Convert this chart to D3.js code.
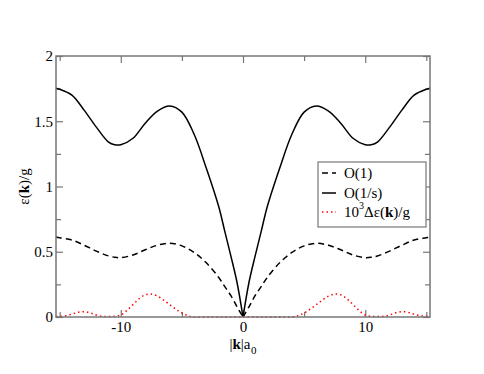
<!DOCTYPE html>
<html>
<head>
<meta charset="utf-8">
<title>dispersion</title>
<script src="https://cdn.jsdelivr.net/npm/d3@7/dist/d3.min.js"></script>
<style>
  body { margin: 0; background: #fff; }
  svg text { font-family: "Liberation Serif", "DejaVu Serif", serif; }
</style>
</head>
<body>
<div id="chart"></div>
<script>
var width = 484, height = 374;
var margin = {left: 56, right: 54, top: 56, bottom: 57};
var serif = "'Liberation Serif', 'DejaVu Serif', serif";

// k values (|k| a0)
var kLines = [-15.3,-15,-14,-13,-12,-11,-10.5,-10,-9,-8,-7,-6,-5,-4,-3,-2,-1.5,-1,-0.5,0,
              0.5,1,1.5,2,3,4,5,6,7,8,9,10,10.5,11,12,13,14,15,15.3];
// O(1/s), solid
var order1s = [1.752,1.745,1.70,1.585,1.455,1.34,1.32,1.32,1.37,1.485,1.578,1.617,1.57,1.40,1.14,0.85,0.66,0.47,0.27,0,
               0.27,0.47,0.66,0.85,1.14,1.40,1.57,1.617,1.578,1.485,1.37,1.32,1.32,1.34,1.455,1.585,1.70,1.745,1.752];
// O(1), dashed
var order1 = [0.613,0.607,0.59,0.55,0.505,0.468,0.458,0.455,0.475,0.515,0.55,0.565,0.545,0.495,0.415,0.305,0.235,0.165,0.08,0,
              0.08,0.165,0.235,0.305,0.415,0.495,0.545,0.565,0.55,0.515,0.475,0.455,0.458,0.468,0.505,0.55,0.59,0.607,0.613];

// 10^3 delta eps, dotted red
var kDelta = [-15.3,-15,-14.5,-14,-13.5,-13,-12.5,-12,-11.5,-11,-10.5,-10,-9.5,-9,-8.5,-8,-7.5,-7,-6.5,-6,-5.5,-5,-4.5,-4,-3,-2,-1,0,
              1,2,3,4,4.5,5,5.5,6,6.5,7,7.5,8,8.5,9,9.5,10,10.5,11,11.5,12,12.5,13,13.5,14,14.5,15,15.3];
var delta = [0.004,0.005,0.01,0.022,0.036,0.041,0.032,0.015,0.005,0.003,0.005,0.015,0.05,0.095,0.14,0.17,0.176,0.16,0.13,0.095,0.06,0.03,0.01,0,0,0,0,0,
             0,0,0,0,0.01,0.03,0.06,0.095,0.13,0.16,0.176,0.17,0.14,0.095,0.05,0.015,0.005,0.003,0.005,0.015,0.032,0.041,0.036,0.022,0.01,0.005,0.004];

var xMajor = [-10, 0, 10], xMinor = [-15, -5, 5, 15];
var yMajor = [0, 0.5, 1, 1.5, 2], yMinor = [0.25, 0.75, 1.25, 1.75];
var yLabels = ["0", "0.5", "1", "1.5", "2"];

var x = d3.scaleLinear().domain([-15.3, 15.3]).range([margin.left, width - margin.right]);
var y = d3.scaleLinear().domain([0, 2]).range([height - margin.bottom, margin.top]);

var svg = d3.select("#chart").append("svg")
    .attr("width", width)
    .attr("height", height);

var frameColor = "#777";

// axes, ticks pointing inward
function drawAxis(gen, tr, ticks, size, pad, fmt) {
  var g = svg.append("g").attr("transform", tr)
    .call(gen.tickValues(ticks).tickSizeInner(-size).tickSizeOuter(0).tickPadding(pad)
      .tickFormat(fmt || ""));
  g.attr("font-family", serif).attr("font-size", 15);
  g.select(".domain").remove();
  g.selectAll("line").attr("stroke", frameColor).attr("stroke-width", 1.2);
  g.selectAll("text").attr("fill", "#000");
  return g;
}
var bottomY = height - margin.bottom, rightX = width - margin.right;
drawAxis(d3.axisBottom(x), "translate(0," + bottomY + ")", xMajor, 7, 4, function(d) { return d; });
drawAxis(d3.axisBottom(x), "translate(0," + bottomY + ")", xMinor, 5, 0);
drawAxis(d3.axisTop(x), "translate(0," + margin.top + ")", xMajor, 7, 0);
drawAxis(d3.axisTop(x), "translate(0," + margin.top + ")", xMinor, 5, 0);
drawAxis(d3.axisLeft(y), "translate(" + margin.left + ",0)", yMajor, 7, 3, function(d, i) { return yLabels[i]; });
drawAxis(d3.axisLeft(y), "translate(" + margin.left + ",0)", yMinor, 5, 0);
drawAxis(d3.axisRight(y), "translate(" + rightX + ",0)", yMajor, 7, 0);
drawAxis(d3.axisRight(y), "translate(" + rightX + ",0)", yMinor, 5, 0);

// curves; split at k=0 so the cusp stays sharp
function halves(ks, vs) {
  var pts = ks.map(function(k, i) { return [k, vs[i]]; });
  return [pts.filter(function(p) { return p[0] <= 0; }), pts.filter(function(p) { return p[0] >= 0; })];
}
var line = d3.line()
  .x(function(d) { return x(d[0]); })
  .y(function(d) { return y(d[1]); })
  .curve(d3.curveCatmullRom.alpha(0.5));

var series = [
  {pts: halves(kLines, order1), color: "#000", dash: "6,4"},
  {pts: halves(kLines, order1s), color: "#000", dash: null},
  {pts: halves(kDelta, delta), color: "#ff0000", dash: "1.5,3"}
];
series.forEach(function(s) {
  svg.selectAll(null).data(s.pts).enter().append("path")
    .attr("d", line)
    .attr("fill", "none")
    .attr("stroke", s.color)
    .attr("stroke-width", 1.5)
    .attr("stroke-dasharray", s.dash);
});

// frame
svg.append("rect")
  .attr("x", margin.left).attr("y", margin.top)
  .attr("width", rightX - margin.left).attr("height", bottomY - margin.top)
  .attr("fill", "none").attr("stroke", frameColor).attr("stroke-width", 1.5);

// text made of pieces, each its own <text>, laid out left to right
function richText(parent, x0, y0, parts, anchor) {
  var g = parent.append("g");
  var cx = 0;
  parts.forEach(function(p) {
    var t = g.append("text").attr("x", cx).attr("y", p.dy || 0)
      .attr("font-size", p.size || 15)
      .attr("font-weight", p.bold ? "bold" : null)
      .text(p.s);
    cx += t.node().getComputedTextLength() + (p.gap || 0);
  });
  var shift = anchor === "middle" ? -cx / 2 : 0;
  g.attr("transform", "translate(" + (x0 + shift) + "," + y0 + ")");
  return g;
}

// axis titles
richText(svg, x(0), 349, [
  {s: "|"}, {s: "k", bold: true}, {s: "|a", gap: 0.5}, {s: "0", size: 11, dy: 5}
], "middle");

var yg = svg.append("g").attr("transform", "translate(29," + y(1) + ") rotate(-90)");
richText(yg, 0, 0, [{s: "\u03b5("}, {s: "k", bold: true}, {s: ")/g"}], "middle");

// legend
var lg = svg.append("g").attr("transform", "translate(318,162)");
lg.append("rect").attr("width", 108).attr("height", 65)
  .attr("fill", "#fff").attr("stroke", frameColor).attr("stroke-width", 1.2);
var legendItems = [
  {parts: [{s: "O(1)"}], color: "#000", dash: "6,4", y: 11},
  {parts: [{s: "O(1/s)"}], color: "#000", dash: null, y: 31},
  {parts: [{s: "10"}, {s: "3", size: 10, dy: -8}, {s: "\u0394\u03b5("}, {s: "k", bold: true}, {s: ")/g"}],
   color: "#ff0000", dash: "1.5,3", y: 50}
];
legendItems.forEach(function(d) {
  lg.append("line").attr("x1", 4).attr("x2", 18).attr("y1", d.y).attr("y2", d.y)
    .attr("stroke", d.color).attr("stroke-width", 1.5).attr("stroke-dasharray", d.dash);
  richText(lg, 26, d.y + 5, d.parts, "start");
});
</script>
</body>
</html>
